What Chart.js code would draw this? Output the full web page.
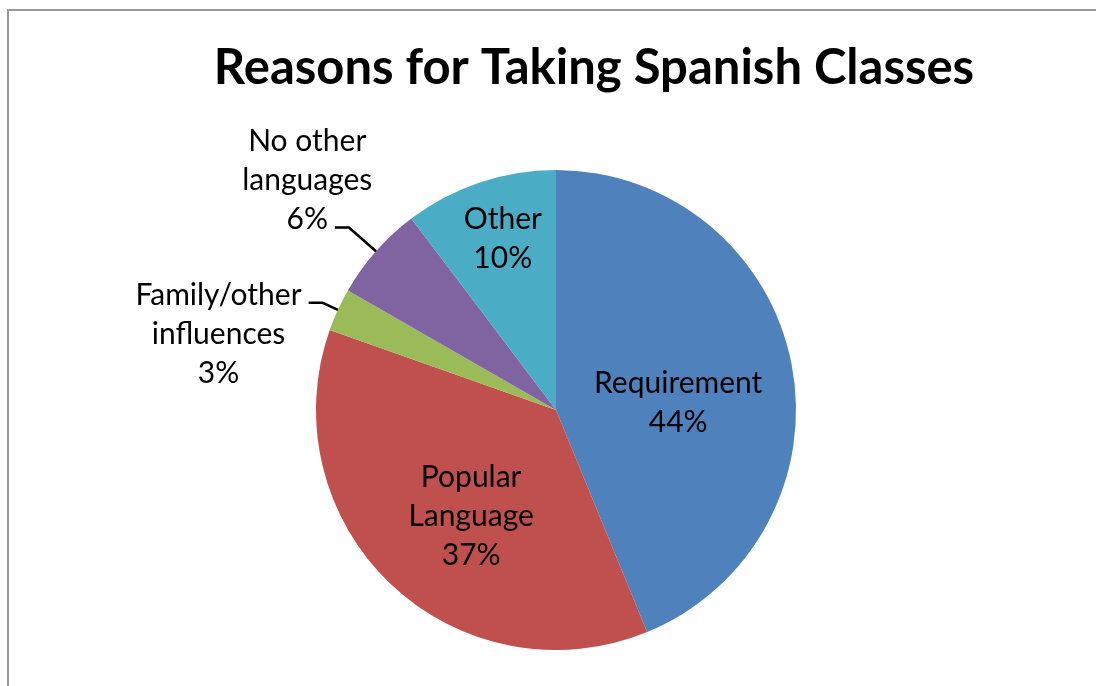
<!DOCTYPE html>
<html>
<head>
<meta charset="utf-8">
<title>Reasons for Taking Spanish Classes</title>
<script src="https://cdn.jsdelivr.net/npm/chart.js@4/dist/chart.umd.min.js"></script>
<style>
  html, body { margin: 0; padding: 0; background: #fff; }
  #wrap { width: 1096px; height: 686px; position: relative; }
</style>
</head>
<body>
<div id="wrap"><canvas id="myChart"></canvas></div>
<script>
// data (percent of answers)
const chartTitle = 'Reasons for Taking Spanish Classes';
const categories = ['Requirement', 'Popular Language', 'Family/other influences', 'No other languages', 'Other'];
const labelLines = [['Requirement'], ['Popular', 'Language'], ['Family/other', 'influences'], ['No other', 'languages'], ['Other']];
const values = [43.8, 36.6, 2.9, 6.4, 10.3];
const colors = ['#4F81BD', '#C0504D', '#9BBB59', '#8064A2', '#4BACC6'];

// where each data label goes (inside at a radius fraction, or outside with a leader)
const labelPlacement = [
  { mode: 'in', r: 0.51, da: 7.9 },
  { mode: 'in', r: 0.567, da: -5 },
  { mode: 'out', elbow: 1.07, attach: 'first' },
  { mode: 'out', elbow: 1.15, attach: 'last' },
  { mode: 'in', r: 0.748, da: 1.3 }
];

const labelFont = '30px Lato';
const lineH = 39;

const total = values.reduce((a, b) => a + b, 0);

const frameAndLabels = {
  id: 'frameAndLabels',
  beforeDraw(chart) {
    const ctx = chart.ctx;
    ctx.save();
    ctx.strokeStyle = '#9a9a9a';
    ctx.lineWidth = 2;
    ctx.beginPath();
    ctx.moveTo(8, chart.height);
    ctx.lineTo(8, 10);
    ctx.lineTo(chart.width, 10);
    ctx.stroke();

    // title
    ctx.fillStyle = '#000';
    ctx.font = 'bold 49px Lato';
    ctx.textAlign = 'center';
    ctx.textBaseline = 'alphabetic';
    ctx.fillText(chartTitle, 594, 84);
    ctx.restore();
  },
  afterDatasetsDraw(chart) {
    const ctx = chart.ctx;
    const arcs = chart.getDatasetMeta(0).data;
    ctx.save();
    ctx.font = labelFont;
    ctx.fillStyle = '#000';
    ctx.textAlign = 'center';
    ctx.textBaseline = 'middle';
    arcs.forEach((arc, i) => {
      const p = arc.getProps(['x', 'y', 'startAngle', 'endAngle', 'outerRadius'], true);
      const pl = labelPlacement[i];
      const lines = labelLines[i].concat(Math.round(values[i] / total * 100) + '%');
      const mid = (p.startAngle + p.endAngle) / 2;
      if (pl.mode === 'in') {
        const a = mid + pl.da * Math.PI / 180;
        const cx = p.x + Math.cos(a) * p.outerRadius * pl.r;
        const cy = p.y + Math.sin(a) * p.outerRadius * pl.r;
        const y0 = cy - (lines.length - 1) * lineH / 2;
        lines.forEach((t, j) => ctx.fillText(t, cx, y0 + j * lineH));
      } else {
        const ex = p.x + Math.cos(mid) * p.outerRadius;
        const ey = p.y + Math.sin(mid) * p.outerRadius;
        const bx = p.x + Math.cos(mid) * p.outerRadius * pl.elbow;
        const by = p.y + Math.sin(mid) * p.outerRadius * pl.elbow;
        const hx = bx - 14;
        ctx.strokeStyle = '#000';
        ctx.lineWidth = 2.5;
        ctx.beginPath();
        ctx.moveTo(ex, ey);
        ctx.lineTo(bx, by);
        ctx.lineTo(hx, by);
        ctx.stroke();
        const k = pl.attach === 'first' ? 0 : lines.length - 1;
        const wk = ctx.measureText(lines[k]).width;
        const tx = hx - 7 - wk / 2;
        const ky = by - 8;
        lines.forEach((t, j) => ctx.fillText(t, tx, ky + (j - k) * lineH));
      }
    });
    ctx.restore();
  }
};

const data = {
  labels: categories,
  datasets: [{
    data: values,
    backgroundColor: colors,
    borderWidth: 0
  }]
};

const config = {
  type: 'pie',
  data,
  options: {
    responsive: true,
    maintainAspectRatio: false,
    animation: false,
    layout: { padding: { top: 170, bottom: 36, left: 316, right: 300 } },
    plugins: {
      legend: { display: false },
      title: { display: false },
      tooltip: { enabled: false }
    }
  },
  plugins: [frameAndLabels]
};

const myChart = new Chart(document.getElementById('myChart'), config);
</script>
</body>
</html>
